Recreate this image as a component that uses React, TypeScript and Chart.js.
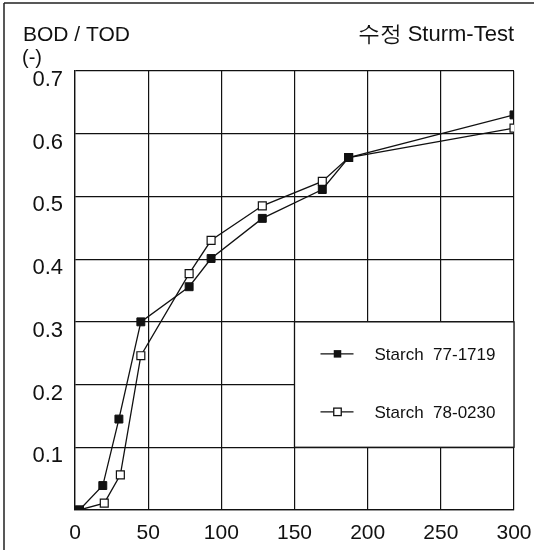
import React, { useEffect, useRef } from "react";
import { Chart, registerables } from "chart.js";

Chart.register(...registerables);

const SERIES_NAMES = ["Starch  77-1719", "Starch  78-0230"];
const X_FILLED = [3, 19, 30, 45, 78, 93, 128, 169, 187, 300];
const Y_FILLED = [0, 0.039, 0.145, 0.3, 0.356, 0.401, 0.465, 0.511, 0.562, 0.63];
const X_OPEN = [3, 20, 31, 45, 78, 93, 128, 169, 187, 300];
const Y_OPEN = [0, 0.011, 0.056, 0.246, 0.377, 0.43, 0.485, 0.524, 0.562, 0.609];
const X_TICKS = [0, 50, 100, 150, 200, 250, 300];
const Y_TICKS = [0.1, 0.2, 0.3, 0.4, 0.5, 0.6, 0.7];
const Y_TITLE = "BOD / TOD";
const Y_UNIT = "(-)";
const TITLE = "수정 Sturm-Test";

const FONT = "'Liberation Sans Narrow', 'Arial Narrow', 'Liberation Sans', Arial, sans-serif";

const W = 534;
const H = 552;

const overlayPlugin = {
  id: "overlay",
  beforeDraw(chart: any) {
    const ctx = chart.ctx;
    ctx.save();
    ctx.fillStyle = "#fff";
    ctx.fillRect(0, 0, W, H);
    ctx.strokeStyle = "#222";
    ctx.lineWidth = 1.5;
    ctx.beginPath();
    ctx.moveTo(4, 3);
    ctx.lineTo(W, 3);
    ctx.moveTo(4, 3);
    ctx.lineTo(4, 550);
    ctx.stroke();
    ctx.fillStyle = "#111";
    ctx.textBaseline = "alphabetic";
    ctx.font = `21px ${FONT}`;
    ctx.textAlign = "left";
    ctx.fillText(Y_TITLE, 23, 41);
    ctx.font = `20px ${FONT}`;
    ctx.fillText(Y_UNIT, 22, 64);
    ctx.font = `22px ${FONT}`;
    ctx.textAlign = "right";
    ctx.fillText(TITLE, chart.chartArea.right, 41);
    ctx.restore();
  },
  afterDraw(chart: any) {
    const { ctx } = chart;
    const xs = chart.scales.x;
    const ys = chart.scales.y;
    const l = xs.getPixelForValue(150);
    const r = xs.getPixelForValue(300);
    const t = ys.getPixelForValue(0.3);
    const b = ys.getPixelForValue(0.1);
    ctx.save();
    ctx.fillStyle = "#fff";
    ctx.fillRect(l, t, r - l, b - t);
    ctx.strokeStyle = "#111";
    ctx.lineWidth = 1.3;
    ctx.strokeRect(l, t, r - l, b - t);
    const rows = [t + 32, t + 90];
    rows.forEach((ry, i) => {
      ctx.strokeStyle = "#111";
      ctx.lineWidth = 1.3;
      ctx.beginPath();
      ctx.moveTo(l + 26, ry);
      ctx.lineTo(l + 59, ry);
      ctx.stroke();
      const s = 7.5;
      if (i === 0) {
        ctx.fillStyle = "#111";
        ctx.fillRect(l + 43 - s / 2, ry - s / 2, s, s);
      } else {
        ctx.fillStyle = "#fff";
        ctx.fillRect(l + 43 - s / 2, ry - s / 2, s, s);
        ctx.strokeRect(l + 43 - s / 2, ry - s / 2, s, s);
      }
      ctx.fillStyle = "#111";
      ctx.font = `17px ${FONT}`;
      ctx.textAlign = "left";
      ctx.textBaseline = "middle";
      ctx.fillText(SERIES_NAMES[i], l + 80, ry + 1);
    });
    ctx.restore();
  },
};

export default function App() {
  const ref = useRef<HTMLCanvasElement | null>(null);
  useEffect(() => {
    document.body.style.margin = "0";
    const canvas = ref.current;
    if (!canvas) return;
    const chart = new Chart(canvas, {
      type: "scatter",
      data: {
        datasets: [
          {
            label: SERIES_NAMES[0],
            data: X_FILLED.map((x, i) => ({ x, y: Y_FILLED[i] })),
            showLine: true,
            borderColor: "#111",
            borderWidth: 1.3,
            backgroundColor: "#111",
            pointStyle: "rect",
            pointRadius: 5.6,
            pointBorderWidth: 1,
            pointBorderColor: "#111",
            pointBackgroundColor: "#111",
          },
          {
            label: SERIES_NAMES[1],
            data: X_OPEN.map((x, i) => ({ x, y: Y_OPEN[i] })),
            showLine: true,
            borderColor: "#111",
            borderWidth: 1.3,
            backgroundColor: "#fff",
            pointStyle: "rect",
            pointRadius: 5.6,
            pointBorderWidth: 1.2,
            pointBorderColor: "#111",
            pointBackgroundColor: "#fff",
          },
        ],
      },
      options: {
        responsive: false,
        maintainAspectRatio: false,
        animation: false,
        layout: { padding: { left: 0, top: 71, right: 20, bottom: 0 } },
        plugins: {
          legend: { display: false },
          tooltip: { enabled: false },
          title: { display: false },
        },
        scales: {
          x: {
            type: "linear",
            min: 0,
            max: 300,
            afterFit: (s: any) => {
              s.height = 42;
              s.paddingLeft = 0;
              s.paddingRight = 0;
            },
            afterBuildTicks: (s: any) => {
              s.ticks = X_TICKS.map((v) => ({ value: v }));
            },
            grid: { color: "#111", lineWidth: 1.2, drawTicks: false },
            border: { color: "#111", width: 1.3 },
            ticks: {
              color: "#111",
              padding: 11,
              maxRotation: 0,
              font: { family: FONT, size: 21 },
            },
          },
          y: {
            type: "linear",
            min: 0,
            max: 0.7,
            afterFit: (s: any) => {
              s.width = 75;
              s.paddingTop = 0;
              s.paddingBottom = 0;
            },
            afterBuildTicks: (s: any) => {
              s.ticks = [0, ...Y_TICKS].map((v) => ({ value: v }));
            },
            grid: { color: "#111", lineWidth: 1.2, drawTicks: false },
            border: { color: "#111", width: 1.3 },
            ticks: {
              color: "#111",
              padding: 12,
              labelOffset: 9,
              font: { family: FONT, size: 22 },
              callback: (v: any) => (v === 0 ? "" : Number(v).toFixed(1)),
            },
          },
        },
      },
      plugins: [overlayPlugin],
    });
    return () => chart.destroy();
  }, []);
  return (
    <div style={{ position: "absolute", left: 0, top: 0, width: W, height: H }}>
      <canvas ref={ref} width={W} height={H} style={{ display: "block", width: W, height: H }} />
    </div>
  );
}
